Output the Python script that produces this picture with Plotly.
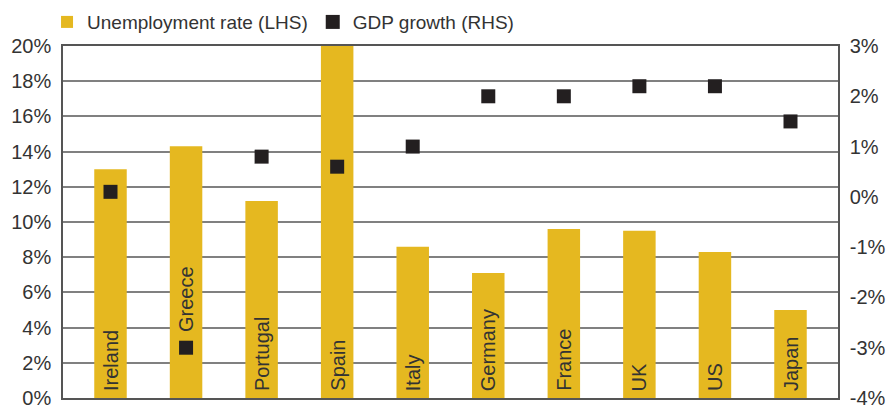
import plotly.graph_objects as go

countries = ["Ireland", "Greece", "Portugal", "Spain", "Italy", "Germany", "France", "UK", "US", "Japan"]
unemployment = [13.0, 14.3, 11.2, 20.5, 8.6, 7.1, 9.6, 9.5, 8.3, 5.0]
gdp_growth = [0.1, -3.0, 0.8, 0.6, 1.0, 2.0, 2.0, 2.2, 2.2, 1.5]
left_ticks = list(range(0, 21, 2))
right_ticks = list(range(-4, 4, 1))

FONT = "Liberation Sans, Arial, sans-serif"
TXT = "#333333"
GOLD = "#E5B820"
DARK = "#231F20"
GRID = "#808080"

# extra lift (px) for labels that would collide with a marker
label_lift = {"Greece": 59}

fig = go.Figure()
fig.add_trace(go.Bar(
    x=countries, y=unemployment, name="Unemployment rate (LHS)",
    marker=dict(color=GOLD, line=dict(width=0)), yaxis="y",
))
fig.add_trace(go.Scatter(
    x=countries, y=gdp_growth, name="GDP growth (RHS)", mode="markers",
    marker=dict(symbol="square", size=14, color=DARK), yaxis="y2",
))

for c in countries:
    fig.add_annotation(
        x=c, y=0, xref="x", yref="y", text=c, showarrow=False,
        textangle=-90, xanchor="center", yanchor="bottom",
        yshift=5 + label_lift.get(c, 0),
        font=dict(family=FONT, size=20, color=TXT),
    )

fig.update_layout(
    width=887, height=405,
    margin=dict(l=63, r=49, t=46, b=7, autoexpand=False),
    paper_bgcolor="white", plot_bgcolor="white",
    font=dict(family=FONT, size=20, color=TXT),
    bargap=0.57,
    showlegend=True,
    legend=dict(orientation="h", x=-0.0206, xanchor="left", y=1.068, yanchor="middle",
                font=dict(family=FONT, size=19, color=TXT), itemclick=False,
                bgcolor="rgba(0,0,0,0)", tracegroupgap=0),
    xaxis=dict(showticklabels=False, showgrid=False, zeroline=False, ticks="",
               showline=True, linecolor="#555555", linewidth=1.5, mirror=True,
               automargin=False),
    yaxis=dict(range=[0, 20], tickvals=left_ticks, ticktext=[f"{v}%" for v in left_ticks],
               showgrid=True, gridcolor=GRID, gridwidth=1.5, zeroline=False,
               showline=True, linecolor="#555555", linewidth=1.5, ticks="",
               tickfont=dict(size=20, color=TXT), ticklabelstandoff=6,
               ticklabeloverflow="allow", automargin=False),
    yaxis2=dict(range=[-4, 3], tickvals=right_ticks, ticktext=[f"{v}%" for v in right_ticks],
                overlaying="y", side="right", showgrid=False, zeroline=False,
                showline=True, linecolor="#555555", linewidth=1.5, ticks="",
                tickfont=dict(size=20, color=TXT), ticklabelstandoff=6,
                ticklabeloverflow="allow", automargin=False),
)

fig.write_html("out.html")
